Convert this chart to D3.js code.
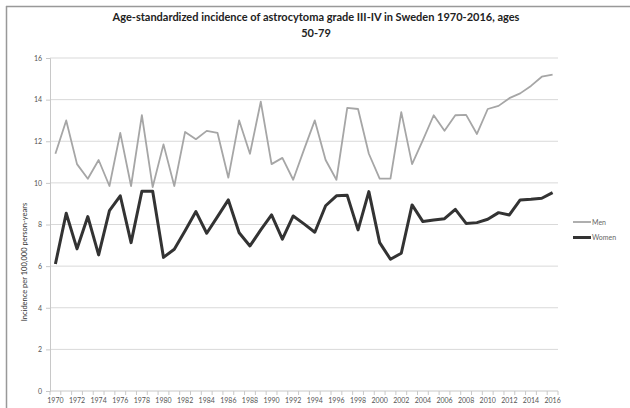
<!DOCTYPE html>
<html>
<head>
<meta charset="utf-8">
<script src="https://cdn.jsdelivr.net/npm/d3@7"></script>
<style>
  body { margin: 0; background: #fff; }
  svg { display: block; }
</style>
</head>
<body>
<svg id="chart" width="630" height="408"></svg>
<script>
const years = d3.range(1970, 2017);

const men = [11.4, 13.0, 10.9, 10.2, 11.1, 9.85, 12.4, 9.85, 13.25, 9.8,
    11.85, 9.85, 12.45, 12.1, 12.5, 12.4, 10.25, 13.0, 11.4, 13.9,
    10.9, 11.2, 10.15, 11.6, 13.0, 11.1, 10.15, 13.6, 13.55, 11.4,
    10.2, 10.2, 13.4, 10.9, 12.05, 13.25, 12.5, 13.25, 13.27, 12.35,
    13.55, 13.7, 14.07, 14.3, 14.66, 15.1, 15.2];

const women = [6.1, 8.54, 6.83, 8.38, 6.54, 8.67, 9.38, 7.13, 9.6, 9.6,
    6.42, 6.81, 7.7, 8.62, 7.58, 8.38, 9.18, 7.6, 6.97, 7.74,
    8.46, 7.3, 8.41, 8.03, 7.63, 8.9, 9.38, 9.4, 7.74, 9.58,
    7.13, 6.33, 6.62, 8.94, 8.14, 8.22, 8.28, 8.73, 8.05, 8.09,
    8.25, 8.57, 8.46, 9.18, 9.21, 9.26, 9.53];

const yTicks = [0, 2, 4, 6, 8, 10, 12, 14, 16];
const xLabels = years.filter(y => (y - 1970) % 2 === 0);

const series = [
    { name: "Men", values: men, color: "#a6a6a6", width: 1.8 },
    { name: "Women", values: women, color: "#333333", width: 3 }
];

const svg = d3.select("#chart");
const margin = { left: 50, right: 72, top: 58, bottom: 17 };
const width = 630, height = 408;

// chart frame (only top and left edges show in the scan)
svg.append("line").attr("x1", 6).attr("x2", 630).attr("y1", 6.5).attr("y2", 6.5)
    .attr("stroke", "#999").attr("stroke-width", 1.5);
svg.append("line").attr("x1", 6.5).attr("x2", 6.5).attr("y1", 6).attr("y2", 408)
    .attr("stroke", "#999").attr("stroke-width", 1.5);

const x = d3.scaleBand()
    .domain(years)
    .range([margin.left, width - margin.right]);

const y = d3.scaleLinear()
    .domain([0, 16])
    .range([height - margin.bottom, margin.top]);

// gridlines
svg.append("g")
    .selectAll("line")
    .data(yTicks.filter(d => d > 0))
    .join("line")
    .attr("x1", margin.left)
    .attr("x2", width - margin.right)
    .attr("y1", d => y(d))
    .attr("y2", d => y(d))
    .attr("stroke", "#d9d9d9")
    .attr("stroke-width", 1);

// y axis
const yAxis = svg.append("g")
    .attr("transform", `translate(${margin.left},0)`)
    .call(d3.axisLeft(y).tickValues(yTicks).tickSize(4).tickPadding(4));
yAxis.select(".domain").attr("stroke", "#c8c8c8");
yAxis.selectAll(".tick line").attr("stroke", "#c8c8c8");
yAxis.selectAll("text")
    .attr("fill", "#555")
    .style("font-family", "Lato, 'Open Sans', sans-serif")
    .style("font-size", "7px");

// x axis: ticks on category boundaries, labels every 2 years
const xAxisG = svg.append("g")
    .attr("transform", `translate(0,${y(0)})`);
xAxisG.append("line")
    .attr("x1", margin.left).attr("x2", width - margin.right)
    .attr("stroke", "#c8c8c8");
xAxisG.selectAll("line.tk")
    .data(years.concat([2017]))
    .join("line")
    .attr("class", "tk")
    .attr("x1", d => d === 2017 ? width - margin.right : x(d))
    .attr("x2", d => d === 2017 ? width - margin.right : x(d))
    .attr("y1", 0).attr("y2", 4)
    .attr("stroke", "#c8c8c8");
xAxisG.selectAll("text")
    .data(xLabels)
    .join("text")
    .attr("x", d => x(d) + x.bandwidth() / 2)
    .attr("y", 12)
    .attr("text-anchor", "middle")
    .attr("fill", "#555")
    .style("font-family", "Lato, 'Open Sans', sans-serif")
    .style("font-size", "7px")
    .text(d => d);

// lines
const line = d3.line()
    .x((d, i) => x(years[i]) + x.bandwidth() / 2)
    .y(d => y(d));

svg.append("g")
    .selectAll("path")
    .data(series)
    .join("path")
    .attr("d", d => line(d.values))
    .attr("fill", "none")
    .attr("stroke", d => d.color)
    .attr("stroke-width", d => d.width)
    .attr("stroke-linejoin", "round");

// legend
const legend = svg.append("g");
series.forEach((s, i) => {
    const ly = 222 + i * 15.5;
    legend.append("line")
        .attr("x1", 573).attr("x2", 591)
        .attr("y1", ly).attr("y2", ly)
        .attr("stroke", s.color)
        .attr("stroke-width", s.width);
    legend.append("text")
        .attr("x", 592).attr("y", ly + 2.5)
        .attr("fill", "#666")
        .style("font-family", "Lato, 'Open Sans', sans-serif")
        .style("font-size", "7px")
        .text(s.name);
});

// title
const title = svg.append("text")
    .attr("text-anchor", "middle")
    .attr("fill", "#222")
    .style("font-family", "Lato, 'Open Sans', sans-serif")
    .style("font-weight", "bold")
    .style("font-size", "11px");
title.append("tspan").attr("x", 316).attr("y", 21)
    .text("Age-standardized incidence of astrocytoma grade III-IV in Sweden 1970-2016, ages");
title.append("tspan").attr("x", 316).attr("y", 37).text("50-79");

// y axis label
svg.append("text")
    .attr("transform", "translate(27,262) rotate(-90)")
    .attr("text-anchor", "middle")
    .attr("fill", "#333")
    .style("font-family", "Lato, 'Open Sans', sans-serif")
    .style("font-size", "7.5px")
    .text("Incidence per 100,000 person-years");
</script>
</body>
</html>
